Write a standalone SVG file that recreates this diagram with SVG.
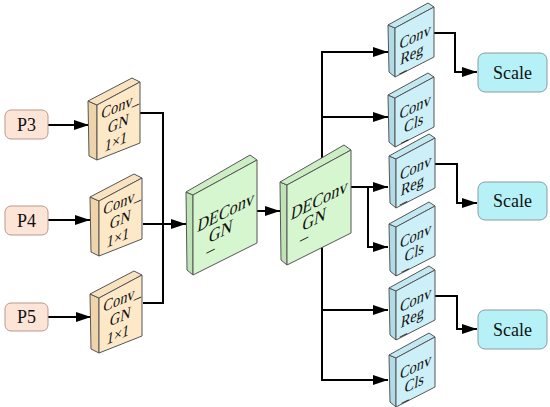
<svg xmlns="http://www.w3.org/2000/svg" width="550" height="407" viewBox="0 0 550 407">
<defs>
<marker id="ah" markerUnits="userSpaceOnUse" markerWidth="15" markerHeight="10" refX="15" refY="5" orient="auto">
<path d="M0,0 L15,5 L0,10 Z" fill="#000"/>
</marker>
<path id="gnF" d="M0,0 L43,-23 L43,38 L0,55 Z"/>
<path id="gnS" d="M-9,-4 L0,0 L0,55 L-8,51 Z"/>
<path id="gnT" d="M-9,-4 L35,-27 L43,-23 L0,0 Z"/>
<path id="deF" d="M0,0 L64,-35 L64,48 L0,80 Z"/>
<path id="deS" d="M-7,-3 L0,0 L0,80 L-6,75 Z"/>
<path id="deT" d="M-7,-3 L57,-40 L64,-35 L0,0 Z"/>
<path id="cvF" d="M0,0 L39,-21 L39,29 L0,49 Z"/>
<path id="cvS" d="M-7,-3 L0,0 L0,49 L-6,44 Z"/>
<path id="cvT" d="M-7,-3 L33,-25 L39,-21 L0,0 Z"/>
</defs>
<style>
.ln{fill:none;stroke:#000;stroke-width:2}
.arr{marker-end:url(#ah)}
.pbox{fill:#fce4d6;stroke:#b9998b;stroke-width:1}
.sbox{fill:#b6f1f7;stroke:#8b9c9e;stroke-width:1}
text{font-family:'Liberation Serif','Times New Roman',serif;fill:#111;text-anchor:middle}
.lbl{font-size:18px}
.gn use{stroke:#555;stroke-width:1;stroke-linejoin:round}
.gn .f{fill:#fde8c8}.gn .s{fill:#efd4ab}.gn .tp{fill:#f8e2bf}
.de use{stroke:#555;stroke-width:1;stroke-linejoin:round}
.de .f{fill:#d6f6cf}.de .s{fill:#bfe3b7}.de .tp{fill:#cdeec5}
.cv use{stroke:#555;stroke-width:1;stroke-linejoin:round}
.cv .f{fill:#cdeff7}.cv .s{fill:#b1dbe6}.cv .tp{fill:#c2e8f1}
.s16{font-size:16px}.s18{font-size:18px}
</style>
<g id="connectors">
<path class="ln arr" d="M48,125 H89"/>
<path class="ln arr" d="M48,220 H90"/>
<path class="ln arr" d="M48,317 H91"/>
<path class="ln" d="M140,113 H163 V303 H143"/>
<path class="ln arr" d="M143,224 H186"/>
<path class="ln arr" d="M257,211 H280"/>
<path class="ln" d="M322,52 V380"/>
<path class="ln arr" d="M321,52 H388"/>
<path class="ln arr" d="M321,117 H388"/>
<path class="ln arr" d="M321,310 H388"/>
<path class="ln arr" d="M321,380 H388"/>
<path class="ln arr" d="M350,187 H388"/>
<path class="ln arr" d="M368,186 V247 H388"/>
<path class="ln arr" d="M434,33 H455 V72 H477"/>
<path class="ln arr" d="M434,164 H457 V203 H477"/>
<path class="ln arr" d="M434,296 H457 V329 H477"/>
</g>
<g id="P3"><rect class="pbox" x="5" y="110" width="43" height="29" rx="6"/><text class="lbl" x="26.5" y="131">P3</text></g>
<g id="P4"><rect class="pbox" x="5" y="206" width="43" height="29" rx="6"/><text class="lbl" x="26.5" y="227">P4</text></g>
<g id="P5"><rect class="pbox" x="5" y="303" width="43" height="28" rx="6"/><text class="lbl" x="26.5" y="323">P5</text></g>

<g id="ConvGN1" class="gn">
<g transform="translate(97,105)"><use href="#gnS" class="s"/><use href="#gnT" class="tp"/><use href="#gnF" class="f"/></g>
<g transform="translate(118.5,122.5) skewY(-24) skewX(-8) scale(0.9,1)"><text class="s16"><tspan x="0" y="-11">Conv_</tspan><tspan x="0" y="6">GN</tspan><tspan x="0" y="23">1×1</tspan></text></g>
</g>
<g id="ConvGN2" class="gn">
<g transform="translate(99,201)"><use href="#gnS" class="s"/><use href="#gnT" class="tp"/><use href="#gnF" class="f"/></g>
<g transform="translate(120.5,218.5) skewY(-24) skewX(-8) scale(0.9,1)"><text class="s16"><tspan x="0" y="-11">Conv_</tspan><tspan x="0" y="6">GN</tspan><tspan x="0" y="23">1×1</tspan></text></g>
</g>
<g id="ConvGN3" class="gn">
<g transform="translate(99,298)"><use href="#gnS" class="s"/><use href="#gnT" class="tp"/><use href="#gnF" class="f"/></g>
<g transform="translate(120.5,315.5) skewY(-24) skewX(-8) scale(0.9,1)"><text class="s16"><tspan x="0" y="-11">Conv_</tspan><tspan x="0" y="6">GN</tspan><tspan x="0" y="23">1×1</tspan></text></g>
</g>

<g id="DEConvGN1" class="de">
<g transform="translate(193,195)"><use href="#deS" class="s"/><use href="#deT" class="tp"/><use href="#deF" class="f"/></g>
<g transform="translate(225,218) skewY(-27) skewX(-8) scale(0.9,1)"><text class="s18"><tspan x="0" y="0">DEConv</tspan><tspan x="-12" y="24">_</tspan><tspan y="17">GN</tspan></text></g>
</g>
<g id="DEConvGN2" class="de">
<g transform="translate(287,185)"><use href="#deS" class="s"/><use href="#deT" class="tp"/><use href="#deF" class="f"/></g>
<g transform="translate(318.5,206) skewY(-27) skewX(-8) scale(0.9,1)"><text class="s18"><tspan x="0" y="0">DEConv</tspan><tspan x="-12" y="24">_</tspan><tspan y="17">GN</tspan></text></g>
</g>

<g id="ConvReg1" class="cv">
<g transform="translate(395,28)"><use href="#cvS" class="s"/><use href="#cvT" class="tp"/><use href="#cvF" class="f"/></g>
<g transform="translate(414.5,42) skewY(-26) skewX(-8) scale(0.9,1)"><text class="s16"><tspan x="0" y="0">Conv</tspan><tspan x="-9" y="23">_</tspan><tspan y="16">Reg</tspan></text></g>
</g>
<g id="ConvCls1" class="cv">
<g transform="translate(395,98)"><use href="#cvS" class="s"/><use href="#cvT" class="tp"/><use href="#cvF" class="f"/></g>
<g transform="translate(414.5,112) skewY(-26) skewX(-8) scale(0.9,1)"><text class="s16"><tspan x="0" y="0">Conv</tspan><tspan x="-7" y="23">_</tspan><tspan y="16">Cls</tspan></text></g>
</g>
<g id="ConvReg2" class="cv">
<g transform="translate(396,159)"><use href="#cvS" class="s"/><use href="#cvT" class="tp"/><use href="#cvF" class="f"/></g>
<g transform="translate(415,173) skewY(-26) skewX(-8) scale(0.9,1)"><text class="s16"><tspan x="0" y="0">Conv</tspan><tspan x="-9" y="23">_</tspan><tspan y="16">Reg</tspan></text></g>
</g>
<g id="ConvCls2" class="cv">
<g transform="translate(396,227)"><use href="#cvS" class="s"/><use href="#cvT" class="tp"/><use href="#cvF" class="f"/></g>
<g transform="translate(415,241) skewY(-26) skewX(-8) scale(0.9,1)"><text class="s16"><tspan x="0" y="0">Conv</tspan><tspan x="-7" y="23">_</tspan><tspan y="16">Cls</tspan></text></g>
</g>
<g id="ConvReg3" class="cv">
<g transform="translate(396,291)"><use href="#cvS" class="s"/><use href="#cvT" class="tp"/><use href="#cvF" class="f"/></g>
<g transform="translate(415,305) skewY(-26) skewX(-8) scale(0.9,1)"><text class="s16"><tspan x="0" y="0">Conv</tspan><tspan x="-9" y="23">_</tspan><tspan y="16">Reg</tspan></text></g>
</g>
<g id="ConvCls3" class="cv">
<g transform="translate(396,358)"><use href="#cvS" class="s"/><use href="#cvT" class="tp"/><use href="#cvF" class="f"/></g>
<g transform="translate(415,372) skewY(-26) skewX(-8) scale(0.9,1)"><text class="s16"><tspan x="0" y="0">Conv</tspan><tspan x="-7" y="23">_</tspan><tspan y="16">Cls</tspan></text></g>
</g>

<g id="Scale1"><rect class="sbox" x="478" y="53" width="69" height="39" rx="7"/><text class="lbl" x="512.5" y="78.5">Scale</text></g>
<g id="Scale2"><rect class="sbox" x="478" y="182" width="69" height="38" rx="7"/><text class="lbl" x="512.5" y="207">Scale</text></g>
<g id="Scale3"><rect class="sbox" x="478" y="310" width="69" height="39" rx="7"/><text class="lbl" x="512.5" y="335.5">Scale</text></g>
</svg>
